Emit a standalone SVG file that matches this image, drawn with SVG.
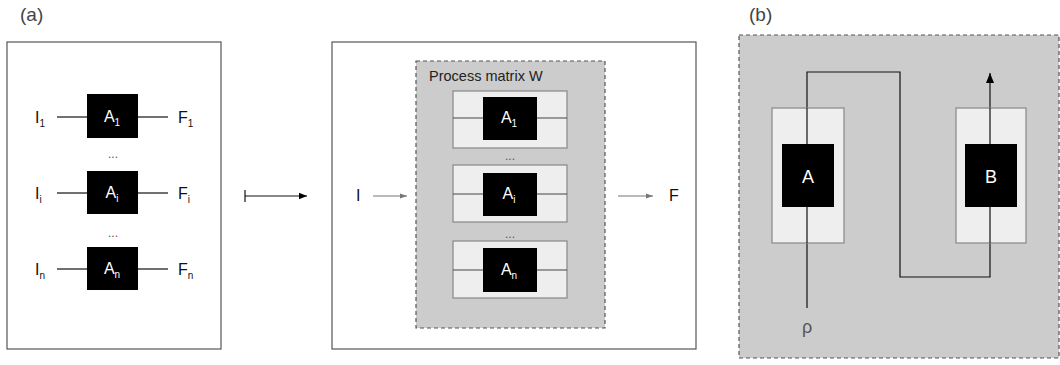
<svg xmlns="http://www.w3.org/2000/svg" width="1060" height="365" viewBox="0 0 1060 365">
<defs>
<style>
text{font-family:"Liberation Sans",Arial,sans-serif}
.frame{fill:#fff;stroke:#555;stroke-width:1.2}
.dash{fill:#ccc;stroke:#555;stroke-width:1.2;stroke-dasharray:4 3}
.light{fill:#eee;stroke:#888;stroke-width:1.2}
.blk{fill:#000}
.wl{fill:#fff;font-size:16px;text-anchor:middle}
.lbl{fill:#111;font-size:16px}
.sub{font-size:10px}
.dots{fill:#555;font-size:12px;text-anchor:middle}
.wire{stroke:#111;stroke-width:1.2;fill:none}
.wire2{stroke:#444;stroke-width:1.2;fill:none}
.garr{stroke:#777;stroke-width:1.2;fill:none}
.title{fill:#444;font-size:19px}
</style>
<marker id="ah" viewBox="0 0 10 10" refX="10" refY="5" markerWidth="8" markerHeight="8" orient="auto" markerUnits="userSpaceOnUse"><path d="M0,1 L10,5 L0,9 Z" fill="#000"/></marker>
<marker id="ahb" viewBox="0 0 10 10" refX="10" refY="5" markerWidth="10" markerHeight="10" orient="auto" markerUnits="userSpaceOnUse"><path d="M0,1 L10,5 L0,9 Z" fill="#000"/></marker>
<marker id="ag" viewBox="0 0 10 10" refX="10" refY="5" markerWidth="8" markerHeight="7" orient="auto" markerUnits="userSpaceOnUse"><path d="M0,1.5 L10,5 L0,8.5 Z" fill="#777"/></marker>
</defs>

<text class="title" x="20" y="21">(a)</text>
<text class="title" x="749" y="21">(b)</text>

<g id="panel-a-left">
<rect class="frame" x="7" y="42" width="214" height="307"/>
</g>
<g id="panel-a-right">
<rect class="frame" x="332" y="42" width="364" height="307"/>
</g>
<g id="process-matrix">
<rect class="dash" x="416" y="61" width="189" height="267"/>
<text x="429" y="81" style="fill:#222;font-size:14.5px">Process matrix W</text>
</g>
<g id="panel-b">
<rect class="dash" x="739" y="35" width="320" height="323"/>
</g>

<g id="connectors">
<line class="wire" x1="57" y1="117" x2="87" y2="117"/>
<line class="wire" x1="138" y1="117" x2="168" y2="117"/>
<line class="wire" x1="57" y1="193" x2="87" y2="193"/>
<line class="wire" x1="138" y1="193" x2="168" y2="193"/>
<line class="wire" x1="57" y1="269" x2="87" y2="269"/>
<line class="wire" x1="138" y1="269" x2="168" y2="269"/>
<line x1="245" y1="190" x2="245" y2="202" stroke="#111" stroke-width="1.2"/>
<line x1="245" y1="196" x2="307" y2="196" stroke="#111" stroke-width="1.2" marker-end="url(#ah)"/>
<line class="garr" x1="373" y1="196" x2="407" y2="196" marker-end="url(#ag)"/>
<line class="garr" x1="618" y1="196" x2="653" y2="196" marker-end="url(#ag)"/>
<path class="wire" d="M807,308 V72 H900 V277 H990 V73" stroke-width="1.5" marker-end="url(#ahb)"/>
</g>

<g id="A1-left">
<rect class="blk" x="87" y="94" width="51" height="44"/>
<text class="wl" x="112" y="122">A<tspan class="sub" dy="4">1</tspan></text>
</g>
<g id="Ai-left">
<rect class="blk" x="87" y="171" width="51" height="43"/>
<text class="wl" x="112" y="198">A<tspan class="sub" dy="4">i</tspan></text>
</g>
<g id="An-left">
<rect class="blk" x="87" y="247" width="51" height="43"/>
<text class="wl" x="112" y="274">A<tspan class="sub" dy="4">n</tspan></text>
</g>
<g id="labels-left">
<text class="lbl" x="35" y="123">I<tspan class="sub" dy="4">1</tspan></text>
<text class="lbl" x="178" y="123">F<tspan class="sub" dy="4">1</tspan></text>
<text class="lbl" x="35" y="199">I<tspan class="sub" dy="4">i</tspan></text>
<text class="lbl" x="178" y="199">F<tspan class="sub" dy="4">i</tspan></text>
<text class="lbl" x="35" y="275">I<tspan class="sub" dy="4">n</tspan></text>
<text class="lbl" x="178" y="275">F<tspan class="sub" dy="4">n</tspan></text>
<text class="dots" x="113" y="158">...</text>
<text class="dots" x="113" y="237">...</text>
</g>

<g id="row1">
<rect class="light" x="453" y="91" width="114" height="57"/>
<line class="wire2" x1="453" y1="118" x2="567" y2="118"/>
<rect class="blk" x="483" y="97" width="54" height="43"/>
<text class="wl" x="509" y="123">A<tspan class="sub" dy="4">1</tspan></text>
</g>
<g id="row2">
<rect class="light" x="453" y="165" width="114" height="57"/>
<line class="wire2" x1="453" y1="194" x2="567" y2="194"/>
<rect class="blk" x="483" y="173" width="54" height="43"/>
<text class="wl" x="509" y="199">A<tspan class="sub" dy="4">i</tspan></text>
</g>
<g id="row3">
<rect class="light" x="453" y="241" width="114" height="57"/>
<line class="wire2" x1="453" y1="270" x2="567" y2="270"/>
<rect class="blk" x="483" y="248" width="54" height="44"/>
<text class="wl" x="509" y="275">A<tspan class="sub" dy="4">n</tspan></text>
</g>
<g id="labels-mid">
<text class="dots" x="510" y="160">...</text>
<text class="dots" x="510" y="238">...</text>
<text class="lbl" x="356" y="201">I</text>
<text class="lbl" x="669" y="201">F</text>
</g>

<g id="node-A">
<rect class="light" x="772" y="108" width="72" height="135"/>
<line class="wire" x1="807" y1="108" x2="807" y2="243" stroke-width="1.5"/>
<rect class="blk" x="782" y="144" width="52" height="63"/>
<text x="808" y="183" style="fill:#fff;font-size:18px;text-anchor:middle">A</text>
</g>
<g id="node-B">
<rect class="light" x="956" y="108" width="70" height="135"/>
<line class="wire" x1="990" y1="108" x2="990" y2="243" stroke-width="1.5"/>
<rect class="blk" x="965" y="144" width="52" height="63"/>
<text x="991" y="183" style="fill:#fff;font-size:18px;text-anchor:middle">B</text>
</g>
<text x="807" y="333" style="fill:#555;font-size:18px;text-anchor:middle">ρ</text>
</svg>
